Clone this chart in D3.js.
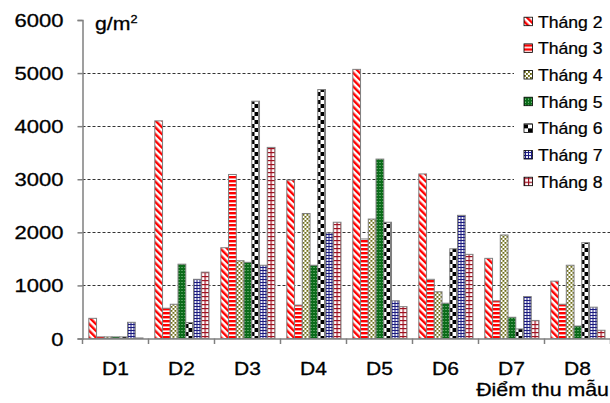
<!DOCTYPE html>
<html>
<head>
<meta charset="utf-8">
<script src="https://cdn.jsdelivr.net/npm/d3@7/dist/d3.min.js"></script>
<style>
  html, body { margin: 0; padding: 0; background: #fff; }
  svg { display: block; font-family: "Liberation Sans", Arial, sans-serif; }
</style>
</head>
<body>
<svg id="chart" width="610" height="403"></svg>
<script>
// Sampling points and monthly values (g/m²)
const sites = ["D1", "D2", "D3", "D4", "D5", "D6", "D7", "D8"];
const months = ["Tháng 2", "Tháng 3", "Tháng 4", "Tháng 5", "Tháng 6", "Tháng 7", "Tháng 8"];
const thang2 = [380, 4100, 1710, 2985, 5070, 3100, 1510, 1080];
const thang3 = [30, 570, 3090, 630, 1875, 1115, 710, 645];
const thang4 = [30, 645, 1465, 2355, 2250, 880, 1950, 1380];
const thang5 = [30, 1400, 1435, 1380, 3380, 665, 400, 235];
const thang6 = [30, 300, 4470, 4690, 2190, 1690, 180, 1805];
const thang7 = [305, 1115, 1380, 1990, 710, 2320, 790, 590];
const thang8 = [10, 1250, 3600, 2190, 600, 1585, 340, 155];
const yTicks = [0, 1000, 2000, 3000, 4000, 5000, 6000];

const series = [thang2, thang3, thang4, thang5, thang6, thang7, thang8];

const svg = d3.select("#chart");
const defs = svg.append("defs");

// Fill patterns, one per month
function pat(id, w, h, bg, transform) {
  const p = defs.append("pattern").attr("id", id)
    .attr("patternUnits", "userSpaceOnUse").attr("width", w).attr("height", h);
  if (transform) p.attr("patternTransform", transform);
  p.append("rect").attr("width", w).attr("height", h).attr("fill", bg);
  return p;
}
// Tháng 2: wide red diagonal stripes
pat("p0", 4.8, 4.8, "#fff", "rotate(-45)")
  .append("rect").attr("width", 2.4).attr("height", 4.8).attr("fill", "#ff0000");
// Tháng 3: red horizontal stripes
pat("p1", 4, 4, "#fff").append("rect").attr("width", 4).attr("height", 2.4).attr("fill", "#ff0000");
// Tháng 4: olive confetti on white
{
  const p = pat("p2", 4, 4, "#fff");
  p.append("rect").attr("x", 0).attr("y", 0).attr("width", 1.8).attr("height", 1.8).attr("fill", "#5e5e00");
  p.append("rect").attr("x", 2).attr("y", 2).attr("width", 1.8).attr("height", 1.8).attr("fill", "#5e5e00");
}
// Tháng 5: dark green with light speckles
{
  const p = pat("p3", 3, 3, "#0b6b1a");
  p.append("rect").attr("x", 0).attr("y", 0).attr("width", 1).attr("height", 1).attr("fill", "#9ed39e");
}
// Tháng 6: black/white checkerboard
{
  const p = pat("p4", 8, 8, "#fff");
  p.append("rect").attr("x", 0).attr("y", 0).attr("width", 4).attr("height", 4).attr("fill", "#000");
  p.append("rect").attr("x", 4).attr("y", 4).attr("width", 4).attr("height", 4).attr("fill", "#000");
}
// Tháng 7: navy fine check
{
  const p = pat("p5", 3, 3, "#1a1a80");
  p.append("rect").attr("x", 1).attr("y", 1).attr("width", 2).attr("height", 2).attr("fill", "#f0f0f8");
}
// Tháng 8: maroon grid
{
  const p = pat("p6", 4, 4, "#fff");
  p.append("rect").attr("x", 0).attr("y", 0).attr("width", 4).attr("height", 1.2).attr("fill", "#a01020");
  p.append("rect").attr("x", 0).attr("y", 0).attr("width", 1.2).attr("height", 4).attr("fill", "#a01020");
}

const x0 = d3.scaleBand().domain(sites).range([82.5, 610.5]).paddingInner(0).paddingOuter(0);
const x1 = d3.scaleBand().domain(months).range([6.3, 60.5]).padding(0);
const y = d3.scaleLinear().domain([0, 6000]).range([338.5, 20]);

// Dashed horizontal gridlines
svg.append("g").selectAll("line")
  .data(yTicks.filter(v => v > 0 && v < 6000))
  .join("line")
  .attr("x1", 82.5).attr("x2", 610)
  .attr("y1", d => Math.round(y(d)) + 0.5).attr("y2", d => Math.round(y(d)) + 0.5)
  .attr("stroke", "#333").attr("stroke-width", 1).attr("stroke-dasharray", "3,2");

// Bars
const groups = svg.append("g").selectAll("g")
  .data(sites)
  .join("g")
  .attr("transform", d => `translate(${x0(d)},0)`);

groups.selectAll("rect")
  .data((site, si) => months.map((m, mi) => ({ m, mi, v: series[mi][si] })))
  .join("rect")
  .attr("x", d => x1(d.m))
  .attr("width", x1.bandwidth())
  .attr("y", d => y(d.v))
  .attr("height", d => y(0) - y(d.v))
  .attr("fill", d => `url(#p${d.mi})`)
  .attr("stroke", "#7f7f7f")
  .attr("stroke-width", 1);

// Axes
const yAxis = d3.axisLeft(y).tickValues(yTicks).tickSize(5).tickFormat(d3.format("d"));
const gy = svg.append("g").attr("transform", "translate(82.5,0)").call(yAxis);
gy.select(".domain").attr("stroke", "#808080").attr("stroke-width", 1.5);
gy.selectAll(".tick line").attr("stroke", "#808080").attr("stroke-width", 1.5);
gy.selectAll(".tick text")
  .attr("x", 0).attr("dy", null).attr("dominant-baseline", null)
  .attr("text-anchor", "end")
  .attr("font-size", 18.5).attr("fill", "#000")
  .attr("stroke", "#000").attr("stroke-width", 0.3)
  .attr("transform", "translate(-19,6.5) scale(1.19,1)");

const xAxis = d3.axisBottom(x0).tickSize(0).tickFormat(d => d);
const gx = svg.append("g").attr("transform", "translate(0,338.5)").call(xAxis);
gx.select(".domain").attr("stroke", "#808080").attr("stroke-width", 1.5);
gx.selectAll(".tick text")
  .attr("y", 0).attr("dy", null)
  .attr("font-size", 17.5).attr("fill", "#000")
  .attr("stroke", "#000").attr("stroke-width", 0.3)
  .attr("transform", "translate(0,36.5) scale(1.2,1)");
// Tick marks at category boundaries
svg.append("g").selectAll("line")
  .data(sites.concat(["end"]))
  .join("line")
  .attr("x1", (d, i) => x0.range()[0] + i * x0.step())
  .attr("x2", (d, i) => x0.range()[0] + i * x0.step())
  .attr("y1", 338.5).attr("y2", 344)
  .attr("stroke", "#808080").attr("stroke-width", 1.5);

// Unit label
const unit = svg.append("text")
  .attr("transform", "translate(95,30) scale(1.15,1)")
  .attr("font-size", 18.5).attr("fill", "#000")
  .attr("stroke", "#000").attr("stroke-width", 0.3);
unit.append("tspan").text("g/m");
unit.append("tspan").attr("font-size", 11).attr("dy", -7).text("2");

// Axis title
svg.append("text")
  .attr("text-anchor", "end")
  .attr("transform", "translate(609,396) scale(1.22,1)")
  .attr("font-size", 17.5).attr("fill", "#000")
  .attr("stroke", "#000").attr("stroke-width", 0.3)
  .text("Điểm thu mẫu");

// Legend
const legend = svg.append("g");
legend.append("rect").attr("x", 514).attr("y", 0).attr("width", 96).attr("height", 198).attr("fill", "#fff");
const ly = d3.scalePoint().domain(months).range([21.7, 181.7]);
const items = legend.selectAll("g.item").data(months).join("g").attr("class", "item")
  .attr("transform", d => `translate(0,${ly(d)})`);
items.append("rect")
  .attr("x", 524).attr("y", -4.5).attr("width", 8.5).attr("height", 8.5)
  .attr("fill", (d, i) => `url(#p${i})`)
  .attr("stroke", "#000").attr("stroke-width", 0.8);
items.append("text")
  .attr("transform", "translate(538,6) scale(1.1,1)")
  .attr("font-size", 16).attr("fill", "#000")
  .attr("stroke", "#000").attr("stroke-width", 0.25)
  .text(d => d);
</script>
</body>
</html>
